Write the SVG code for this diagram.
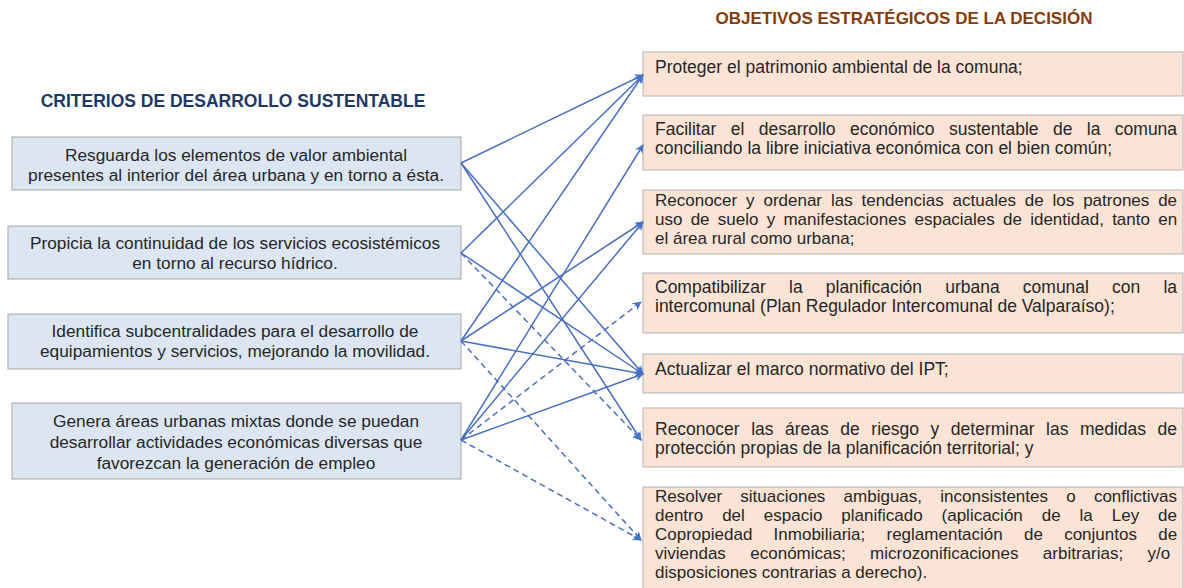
<svg xmlns="http://www.w3.org/2000/svg" width="1184" height="588" viewBox="0 0 1184 588">
<style>
.bg{fill:#ffffff}
.lbox{fill:#dce6f2;stroke:#a6a6a6;stroke-width:1}
.rbox{fill:#fbe4d5;stroke:#b3b3b3;stroke-width:1}
.lt{font-family:"Liberation Sans",Arial,sans-serif;font-size:17.3px;fill:#262626;text-anchor:middle}
.rt{font-family:"Liberation Sans",Arial,sans-serif;font-size:17.5px;fill:#262626}
.sm{font-size:17px}
.t1{font-family:"Liberation Sans",Arial,sans-serif;font-size:17.5px;font-weight:bold;fill:#203864;text-anchor:middle}
.t2{font-family:"Liberation Sans",Arial,sans-serif;font-size:17px;font-weight:bold;fill:#843c0c;text-anchor:middle}
.c{fill:none;stroke:#4a6fbf;stroke-width:1.5;marker-end:url(#arr)}
.d{stroke-dasharray:6 4}
</style>
<defs>
<marker id="arr" viewBox="0 0 10 10" refX="9" refY="5" markerWidth="9" markerHeight="9" markerUnits="userSpaceOnUse" orient="auto">
<path d="M0,0 L10,5 L0,10 L3,5 z" fill="#4472c4"/>
</marker>
</defs>
<rect class="bg" x="0" y="0" width="1184" height="588"/>
<text class="t1" x="233" y="107">CRITERIOS DE DESARROLLO SUSTENTABLE</text>
<text class="t2" x="904" y="24">OBJETIVOS ESTRATÉGICOS DE LA DECISIÓN</text>

<g id="L1"><rect class="lbox" x="12" y="137" width="449" height="53"/>
<text class="lt" x="236" y="161">Resguarda los elementos de valor ambiental</text>
<text class="lt" x="236" y="181">presentes al interior del área urbana y en torno a ésta.</text></g>
<g id="L2"><rect class="lbox" x="8" y="226" width="453" height="53"/>
<text class="lt" x="235" y="249">Propicia la continuidad de los servicios ecosistémicos</text>
<text class="lt" x="235" y="269">en torno al recurso hídrico.</text></g>
<g id="L3"><rect class="lbox" x="8" y="314" width="453" height="55"/>
<text class="lt" x="235" y="337">Identifica subcentralidades para el desarrollo de</text>
<text class="lt" x="235" y="357">equipamientos y servicios, mejorando la movilidad.</text></g>
<g id="L4"><rect class="lbox" x="12" y="403" width="449" height="76"/>
<text class="lt" x="236" y="427">Genera áreas urbanas mixtas donde se puedan</text>
<text class="lt" x="236" y="448">desarrollar actividades económicas diversas que</text>
<text class="lt" x="236" y="469">favorezcan la generación de empleo</text></g>

<g id="R1"><rect class="rbox" x="643" y="52" width="540" height="44"/>
<text class="rt" x="655" y="73">Proteger el patrimonio ambiental de la comuna;</text></g>
<g id="R2"><rect class="rbox" x="643" y="115" width="540" height="55"/>
<text class="rt" x="655" y="135" style="word-spacing:9.55px">Facilitar el desarrollo económico sustentable de la comuna</text>
<text class="rt" x="655" y="154">conciliando la libre iniciativa económica con el bien común;</text></g>
<g id="R3"><rect class="rbox" x="643" y="190" width="540" height="64"/>
<text class="rt sm" x="655" y="206" style="word-spacing:4.14px">Reconocer y ordenar las tendencias actuales de los patrones de</text>
<text class="rt sm" x="655" y="225" style="word-spacing:3.51px">uso de suelo y manifestaciones espaciales de identidad, tanto en</text>
<text class="rt sm" x="655" y="244">el área rural como urbana;</text></g>
<g id="R4"><rect class="rbox" x="643" y="273" width="540" height="60"/>
<text class="rt" x="655" y="293" style="word-spacing:18.27px">Compatibilizar la planificación urbana comunal con la</text>
<text class="rt" x="655" y="312">intercomunal (Plan Regulador Intercomunal de Valparaíso);</text></g>
<g id="R5"><rect class="rbox" x="643" y="354" width="540" height="39"/>
<text class="rt" x="655" y="375">Actualizar el marco normativo del IPT;</text></g>
<g id="R6"><rect class="rbox" x="643" y="408" width="540" height="59"/>
<text class="rt" x="655" y="435" style="word-spacing:6.67px">Reconocer las áreas de riesgo y determinar las medidas de</text>
<text class="rt" x="655" y="454">protección propias de la planificación territorial; y</text></g>
<g id="R7"><rect class="rbox" x="643" y="487" width="540" height="110"/>
<text class="rt sm" x="655" y="502" style="word-spacing:13.51px">Resolver situaciones ambiguas, inconsistentes o conflictivas</text>
<text class="rt sm" x="655" y="521" style="word-spacing:14.22px">dentro del espacio planificado (aplicación de la Ley de</text>
<text class="rt sm" x="655" y="540" style="word-spacing:16.53px">Copropiedad Inmobiliaria; reglamentación de conjuntos de</text>
<text class="rt sm" x="655" y="559" style="word-spacing:19.67px">viviendas económicas; microzonificaciones arbitrarias; y/o</text>
<text class="rt sm" x="655" y="578">disposiciones contrarias a derecho).</text></g>

<g id="connectors">
<line class="c" x1="461" y1="163" x2="643" y2="75"/>
<line class="c" x1="461" y1="163" x2="643" y2="374"/>
<line class="c" x1="461" y1="163" x2="641" y2="440"/>
<line class="c" x1="461" y1="253" x2="643" y2="75"/>
<line class="c" x1="461" y1="253" x2="643" y2="374"/>
<line class="c d" x1="461" y1="253" x2="641" y2="440"/>
<line class="c" x1="461" y1="341" x2="643" y2="75"/>
<line class="c" x1="461" y1="341" x2="643" y2="222"/>
<line class="c" x1="461" y1="341" x2="643" y2="374"/>
<line class="c d" x1="461" y1="341" x2="641" y2="540"/>
<line class="c" x1="461" y1="440" x2="643" y2="145"/>
<line class="c" x1="461" y1="440" x2="643" y2="222"/>
<line class="c d" x1="461" y1="440" x2="641" y2="302"/>
<line class="c" x1="461" y1="440" x2="643" y2="374"/>
<line class="c d" x1="461" y1="440" x2="641" y2="540"/>
</g>
</svg>
